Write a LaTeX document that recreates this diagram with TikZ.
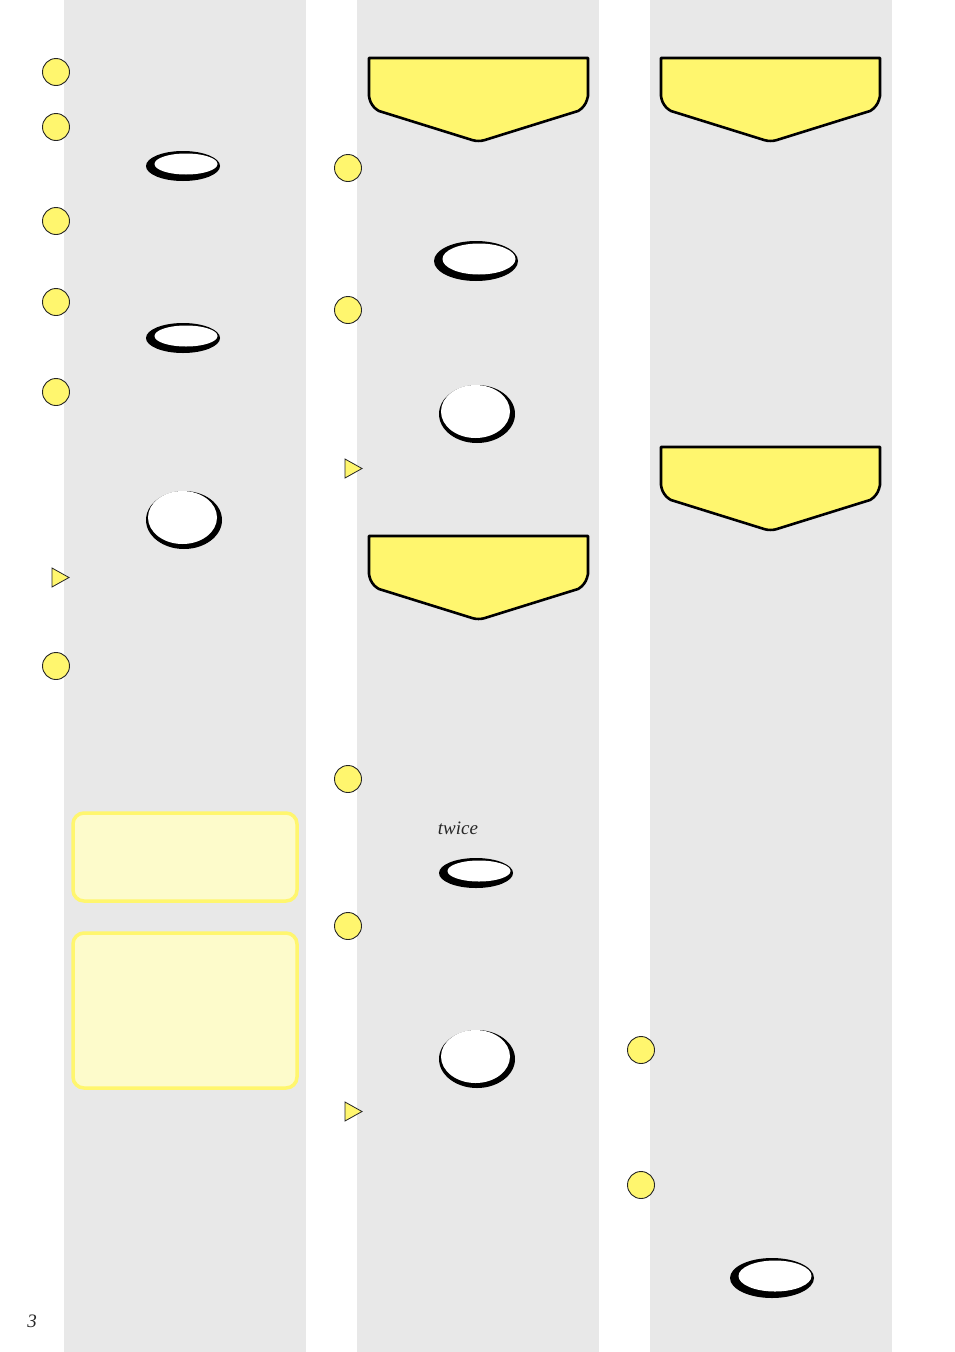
\documentclass[tikz,border=0pt]{standalone}
\usepackage{fontspec}
\newfontfamily\pageserif{Liberation Serif}
\begin{document}
\begin{tikzpicture}[x=1pt,y=-1pt]
\definecolor{colgray}{HTML}{E8E8E8}
\definecolor{ylw}{HTML}{FFF66E}
\definecolor{lylw}{HTML}{FDFBCB}
\tikzset{
  stepdot/.style={circle,draw=black!85,line width=0.9pt,fill=ylw,minimum size=27pt,inner sep=0pt},
  infobox/.style={draw=ylw,line width=3.5pt,fill=lylw,rounded corners=11pt},
  banner/.style={draw=black,line width=2.6pt,fill=ylw,line join=round},
  bigital/.style={font=\pageserif\fontsize{19}{23}\selectfont\itshape,text=black!85},
}
\useasboundingbox (0,0) rectangle (954,1352);
\fill[white] (0,0) rectangle (954,1352);
% columns
\fill[colgray] (64,0) rectangle (306,1352);
\fill[colgray] (357,0) rectangle (599,1352);
\fill[colgray] (650,0) rectangle (892,1352);
% banners
\newcommand{\mybanner}[3]{% left x, top y, name
  \begin{scope}[shift={(#1,#2)}]
  \draw[banner] (0,0) -- (219,0) -- (219,38) [rounded corners=7pt]-- (216,49) [rounded corners=0pt] -- (209,53) [rounded corners=6pt]-- (109.5,84) [rounded corners=0pt] -- (10,53) [rounded corners=7pt]-- (2,48) [rounded corners=0pt]-- (0,38) -- cycle;
  \coordinate (#3) at (109.5,40);
  \end{scope}}
\mybanner{369}{58}{ban1}
\mybanner{369}{536}{ban2}
\mybanner{661}{58}{ban3}
\mybanner{661}{447}{ban4}
% step dots
\foreach \n/\x/\y in {a/56/72,b/56/127,c/56/221,d/56/302,e/56/392,f/56/666,g/348/168,h/348/310,i/348/779,j/348/926,k/641/1050,l/641/1185}
  \node[stepdot] (dot\n) at (\x,\y) {};
% triangles
\newcommand{\mytri}[2]{\draw[black!85,line width=0.8pt,fill=ylw,line join=miter] (#1,#2) -- (#1+17,#2+9.5) -- (#1,#2+19) -- cycle;}
\mytri{52}{568}
\mytri{345}{459}
\mytri{345}{1102}
% buttons
\newcommand{\mybutton}[5]{% x y w h name
  \fill[black] (#1-1,#2+1) ellipse ({#3/2} and {#4/2});
  \fill[white] (#1+2,#2-1) ellipse ({#3/2-5.5} and {#4/2-4.5});
  \coordinate (#5) at (#1,#2);}
\mybutton{184}{165}{74}{30}{btnA}
\mybutton{184}{337}{74}{30}{btnB}
\mybutton{477}{260}{84}{40}{btnC}
\mybutton{477}{872}{74}{30}{btnD}
\mybutton{773}{1277}{84}{40}{btnE}
\newcommand{\myround}[3]{%
  \fill[black] (#1,#2+1) ellipse (38 and 29);
  \fill[white] (#1-1.5,#2-1.5) ellipse (34.5 and 26.5);
  \coordinate (#3) at (#1,#2);}
\myround{184}{519}{rndA}
\myround{477}{413}{rndB}
\myround{477}{1058}{rndC}
% info boxes
\draw[infobox] (73,813) rectangle (297,901);
\draw[infobox] (73,933) rectangle (297,1088);
% texts
\node[bigital] (twice) at (458,828) {twice};
\node[bigital] (pnum) at (32,1321) {3};
\end{tikzpicture}
\end{document}
